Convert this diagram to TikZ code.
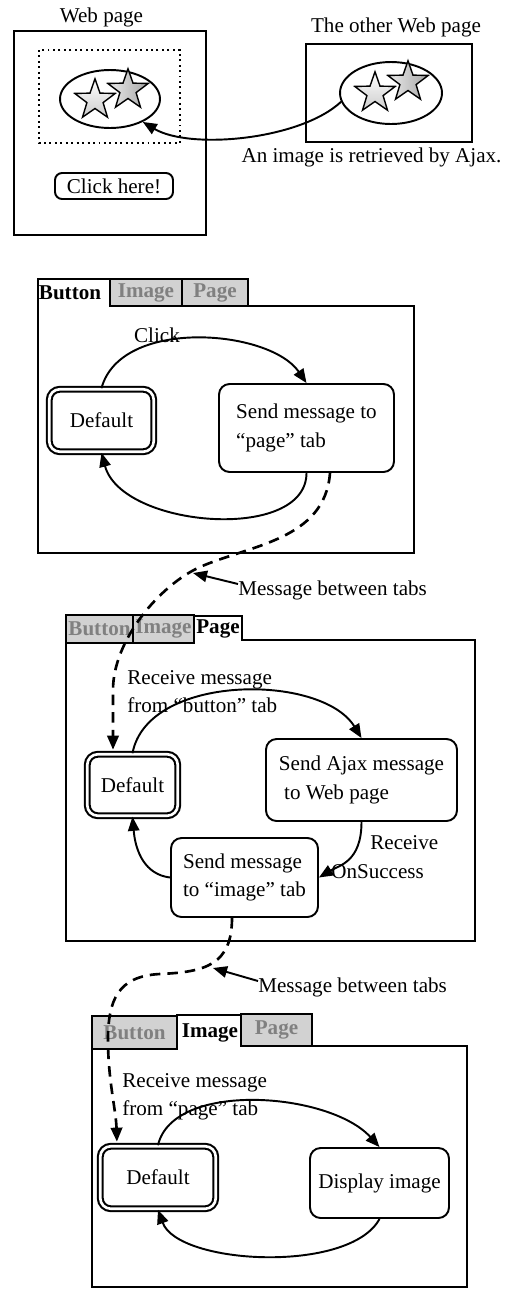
\documentclass[tikz,border=0pt]{standalone}
\usepackage{fontspec}
\setmainfont{Liberation Serif}
\usetikzlibrary{shapes.geometric,arrows.meta}

\begin{document}
\begin{tikzpicture}[x=0.02cm,y=-0.02cm,
    every node/.style={font=\fontsize{12}{16}\selectfont},
    panel/.style={line width=1.1pt},
    trans/.style={line width=1.1pt,-{Triangle[length=8pt,width=6.5pt]}},
    msgdash/.style={line width=1.5pt,dash pattern=on 6pt off 4pt,-{Triangle[length=8pt,width=6.5pt]},shorten >=2pt},
    state/.style={draw,line width=1.1pt,rounded corners=6pt,align=left,inner sep=0pt},
    defstate/.style={draw,line width=1.2pt,double,double distance=1.5pt,rounded corners=6pt,inner sep=0pt},
    tabidle/.style={draw,line width=1.1pt,fill=gray!35,text=gray,font=\fontsize{12}{16}\selectfont\bfseries,inner sep=0pt},
    tabon/.style={font=\fontsize{12}{16}\selectfont\bfseries,inner sep=0pt},
    note/.style={align=left,inner sep=0pt},
    staricon/.style={draw,line width=0.8pt,star,star points=5,star point ratio=2.5,minimum size=0.85cm,inner sep=0pt}]

    \useasboundingbox (0,0) rectangle (508,1289); % same size as the original figure

    % ---- the two Web pages ----
    \begin{scope}
        \node (webtitle) at (101.5,17) {Web page};
        \draw[panel] (14,31) rectangle (206,235);
        \draw[dotted,line width=1.1pt] (39,50) rectangle (180,143); % area that gets the image
        \node[draw,ellipse,line width=1.1pt,minimum width=2cm,minimum height=1.16cm] (img1) at (110,99) {};
        \node[staricon,top color=white,bottom color=gray!40] (star1a) at (95,100) {};
        \node[staricon,left color=gray!15,right color=gray!70] (star1b) at (128,90) {};
        \node[state,rounded corners=4pt,minimum width=2.36cm,minimum height=0.52cm] (clickbtn) at (114,186) {Click here!};

        \node (othertitle) at (396,27) {The other Web page};
        \draw[panel] (306,44) rectangle (472,142);
        \node[draw,ellipse,line width=1.1pt,minimum width=2.04cm,minimum height=1.24cm] (img2) at (391,93) {};
        \node[staricon,top color=white,bottom color=gray!40] (star2a) at (375,93) {};
        \node[staricon,left color=gray!15,right color=gray!70] (star2b) at (408,82) {};

        \draw[trans] (img2.190) .. controls (300,140) and (190,150) .. (img1.-35); % Ajax fetch
        \node (ajaxnote) at (371.5,157) {An image is retrieved by Ajax.};
    \end{scope}

    % ---- Button tab ----
    \begin{scope}
        \draw[panel] (110,279) -- (38,279) -- (38,553) -- (414,553) -- (414,306) -- (248,306);
        \node[tabon] (p1button) at (70,293) {Button};
        \node[tabidle,minimum width=1.44cm,minimum height=0.54cm] (p1image) at (146,292.5) {Image};
        \node[tabidle,minimum width=1.32cm,minimum height=0.54cm] (p1page) at (215,292.5) {Page};

        \node[defstate,minimum width=2.09cm,minimum height=1.25cm] (p1default) at (101.5,420.5) {Default};
        \node[state,minimum width=3.5cm,minimum height=1.76cm] (p1send) at (306.5,428) {Send message to\\“page” tab};

        \node (click) at (157,335) {Click};
        \draw[trans] (p1default.north) .. controls +(19,-71) and +(-37,-54) .. (p1send.north);
        \draw[trans] (p1send.south) .. controls +(0,70) and +(20,75) .. (p1default.south);
    \end{scope}

    % ---- Page tab ----
    \begin{scope}
        \draw[panel] (194,643) -- (194,616) -- (242,616) -- (242,640) -- (475,640) -- (475,941) -- (66,941) -- (66,643);
        \node[tabidle,minimum width=1.34cm,minimum height=0.56cm] (p2button) at (99.5,629) {Button};
        \node[tabidle,minimum width=1.22cm,minimum height=0.56cm] (p2image) at (163.5,629) {Image};
        \node[tabon] (p2page) at (218,629) {Page};

        \node[defstate,minimum width=1.81cm,minimum height=1.23cm] (p2default) at (132.5,785) {Default};
        \node[state,minimum width=3.82cm,minimum height=1.64cm] (p2ajax) at (361.5,780) {Send Ajax message\\\hspace*{0.25em}to Web page};
        \node[state,minimum width=2.94cm,minimum height=1.58cm] (p2sendimg) at (244.5,877.5) {Send message\\to “image” tab};

        \node[note,anchor=west] (p2recv) at (127,692) {Receive message\\from “button” tab};
        \node[note,anchor=west] (p2success) at (370,843) {Receive};
        \node[note,anchor=west] (p2success2) at (331,872) {OnSuccess};

        \draw[trans] (p2default.north) .. controls +(15,-80) and +(-40,-65) .. (p2ajax.north);
        \draw[trans] (p2ajax.south) .. controls +(0,40) and +(20,-12) .. (p2sendimg.east);
        \draw[trans] (p2sendimg.west) .. controls +(-25,-3) and +(3,35) .. (p2default.south);
    \end{scope}

    % ---- Image tab ----
    \begin{scope}
        \draw[panel] (177,1049) -- (177,1015) -- (241,1015) -- (241,1046) -- (467,1046) -- (467,1287) -- (92,1287) -- (92,1049);
        \node[tabidle,minimum width=1.7cm,minimum height=0.66cm] (p3button) at (134.5,1032.5) {Button};
        \node[tabon] (p3image) at (210,1033) {Image};
        \node[tabidle,minimum width=1.42cm,minimum height=0.64cm] (p3page) at (276.5,1030) {Page};

        \node[defstate,minimum width=2.31cm,minimum height=1.25cm] (p3default) at (158,1177.5) {Default};
        \node[state,minimum width=2.78cm,minimum height=1.4cm] (p3display) at (379.5,1183) {Display image};

        \node[note,anchor=west] (p3recv) at (122,1097) {Receive message\\from “page” tab};

        \draw[trans] (p3default.north) .. controls +(15,-65) and +(-50,-55) .. (p3display.north);
        \draw[trans] (p3display.south) .. controls +(-30,55) and +(20,55) .. (p3default.south);
    \end{scope}

    % ---- messages between the tabs ----
    \draw[msgdash] ([xshift=0.47cm]p1send.south) .. controls (325,540) and (250,545) .. (200,567)
        .. controls (160,585) and (113,640) .. (113,690) -- ([xshift=-0.39cm]p2default.north);
    \draw[msgdash] ([xshift=-0.25cm]p2sendimg.south) .. controls (232,965) and (205,972) .. (160,974)
        .. controls (118,976) and (108,1000) .. (108,1040) .. controls (108,1080) and (116,1110) .. ([xshift=-0.82cm]p3default.north);

    \node[note,anchor=west] (msg1) at (238,590) {Message between tabs};
    \coordinate (msgtip1) at (193,573);
    \draw[trans] ([yshift=0.12cm]msg1.west) -- (msgtip1);
    \node[note,anchor=west] (msg2) at (258,987) {Message between tabs};
    \coordinate (msgtip2) at (213,968);
    \draw[trans] ([yshift=0.12cm]msg2.west) -- (msgtip2);
\end{tikzpicture}
\end{document}
